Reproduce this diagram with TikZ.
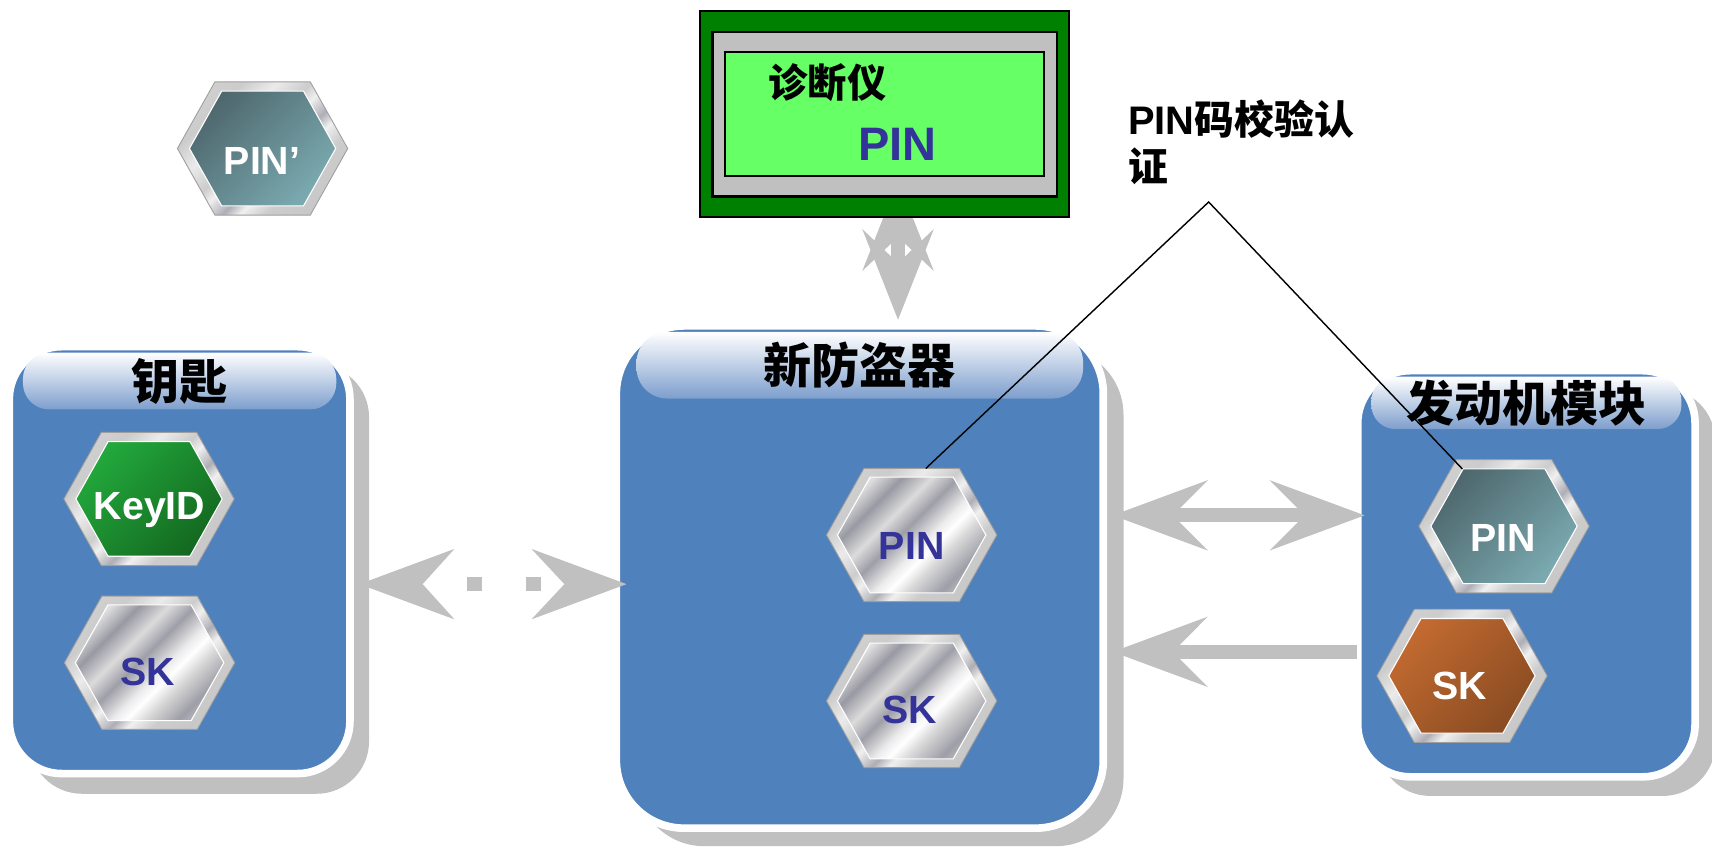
\documentclass[tikz,border=0pt]{standalone}
\usepackage{fontspec}
\setmainfont{Liberation Sans}
\newfontfamily\cjk{Noto Sans CJK SC}
\usetikzlibrary{arrows.meta}
\definecolor{box_blue}{RGB}{79, 129, 189}
\definecolor{head_blue}{RGB}{125, 158, 205}
\definecolor{fat_grey}{RGB}{192, 192, 192}
\definecolor{pin_navy}{RGB}{51, 51, 153}
\definecolor{lcd_green}{RGB}{102, 255, 102}
\definecolor{case_green}{RGB}{0, 128, 0}
\definecolor{teal_a}{RGB}{78, 104, 110}
\definecolor{teal_b}{RGB}{122, 170, 176}
\definecolor{green_a}{RGB}{34, 168, 60}
\definecolor{green_b}{RGB}{20, 105, 32}
\definecolor{brown_a}{RGB}{194, 106, 48}
\definecolor{brown_b}{RGB}{138, 76, 34}
\pgfdeclarehorizontalshading{silver_band}{100bp}{
  color(0bp)=(black!18); color(14bp)=(black!18); color(24bp)=(black!12);
  color(32bp)=(blue!10!black!40); color(40bp)=(black!14); color(47bp)=(blue!10!black!38);
  color(55bp)=(black!8); color(59bp)=(white); color(64bp)=(black!15);
  color(73bp)=(blue!10!black!38); color(84bp)=(black!14); color(100bp)=(black!14)}
\pgfdeclarehorizontalshading{silver_rim}{100bp}{
  color(0bp)=(black!14); color(30bp)=(black!20); color(38bp)=(black!8);
  color(46bp)=(black!20); color(50bp)=(black!6); color(56bp)=(blue!10!black!32);
  color(60bp)=(black!6); color(66bp)=(black!20); color(100bp)=(black!26)}
\makeatletter
\pgfdeclareshape{hexbox}{
  \inheritsavedanchors[from=rectangle]
  \inheritanchorborder[from=rectangle]
  \inheritanchor[from=rectangle]{center}
  \backgroundpath{
    \southwest \pgf@xa=\pgf@x \pgf@ya=\pgf@y
    \northeast \pgf@xb=\pgf@x \pgf@yb=\pgf@y
    \pgf@xc=\pgf@xb \advance\pgf@xc by-\pgf@xa \pgf@xc=0.22\pgf@xc
    \pgf@yc=\pgf@ya \advance\pgf@yc by\pgf@yb \pgf@yc=0.5\pgf@yc
    \pgfpathmoveto{\pgfqpoint{\pgf@xa}{\pgf@yc}}
    \pgfpathlineto{\pgfqpoint{\dimexpr\pgf@xa+\pgf@xc}{\pgf@yb}}
    \pgfpathlineto{\pgfqpoint{\dimexpr\pgf@xb-\pgf@xc}{\pgf@yb}}
    \pgfpathlineto{\pgfqpoint{\pgf@xb}{\pgf@yc}}
    \pgfpathlineto{\pgfqpoint{\dimexpr\pgf@xb-\pgf@xc}{\pgf@ya}}
    \pgfpathlineto{\pgfqpoint{\dimexpr\pgf@xa+\pgf@xc}{\pgf@ya}}
    \pgfpathclose
  }
}
\makeatother
\tikzstyle{shadown}=[rectangle,fill=fat_grey,inner sep=0pt]
\tikzstyle{bodyn}=[rectangle,fill=box_blue,draw=white,line width=7pt,inner sep=0pt]
\tikzstyle{headn}=[rectangle,top color=white,bottom color=head_blue,inner sep=0pt,
  font=\cjk\bfseries\fontsize{44}{44}\selectfont]
\tikzstyle{rimn}=[shape=hexbox,minimum width=156pt,minimum height=122pt,inner sep=0pt,outer sep=0pt,
  draw=black!38,line width=0.8pt,shading=silver_rim,shading angle=-45]
\tikzstyle{facen}=[shape=hexbox,minimum width=134pt,minimum height=105pt,inner sep=0pt,outer sep=0pt,
  draw=white,line width=1pt]
\tikzstyle{silvern}=[facen,minimum width=136pt,minimum height=106pt,shading=silver_band,shading angle=-45]
\tikzstyle{tealn}=[facen,left color=teal_a,right color=teal_b,shading angle=45]
\tikzstyle{greenn}=[facen,left color=green_a,right color=green_b,shading angle=45]
\tikzstyle{brownn}=[facen,left color=brown_a,right color=brown_b,shading angle=45]
\tikzstyle{whitet}=[text=white,font=\bfseries\fontsize{36}{36}\selectfont]
\tikzstyle{navyt}=[text=pin_navy,font=\bfseries\fontsize{36}{36}\selectfont]
\tikzstyle{fata}=[draw=fat_grey,line width=13pt]

\begin{document}
\begin{tikzpicture}[x=1pt,y=-1pt]
    \useasboundingbox (0,0) rectangle (1568,775);
    \node [style=shadown,rounded corners=48pt,minimum width=311pt,minimum height=393pt] (keyshadow) at (182.5,530.5) {};
    \node [style=shadown,rounded corners=62pt,minimum width=446pt,minimum height=457pt] (newshadow) at (806,546.5) {};
    \node [style=shadown,rounded corners=48pt,minimum width=309pt,minimum height=373pt] (engshadow) at (1416.5,542.5) {};
    \node [style=bodyn,rounded corners=48pt,minimum width=312pt,minimum height=391pt] (keybox) at (164.5,513) {};
    \node [style=bodyn,rounded corners=62pt,minimum width=446pt,minimum height=460pt] (newbox) at (787.5,528.5) {};
    \node [style=bodyn,rounded corners=48pt,minimum width=309pt,minimum height=372pt] (engbox) at (1398,525.5) {};
    \node [style=headn,rounded corners=24pt,minimum width=287pt,minimum height=52pt] (keyhead) at (164.5,349) {钥匙};
    \node [style=headn,rounded corners=28pt,minimum width=409pt,minimum height=61pt] (newhead) at (787.5,334.5) {新防盗器};
    \node [style=headn,rounded corners=22pt,minimum width=284pt,minimum height=48pt] (enghead) at (1398,369) {发动机模块};

    \coordinate (dl) at (329,535);
    \coordinate (dr) at (574,535);
    \coordinate (ul) at (1019,472);
    \coordinate (ur) at (1250,472);
    \coordinate (rl) at (1019,597);
    \coordinate (rr) at (1243,597);
    \coordinate (vt) at (822.5,165);
    \coordinate (vb) at (822.5,293);
    \draw [style=fata,dash pattern=on 14pt off 40pt,dash phase=8pt,{Stealth[length=86pt,width=63pt,inset=28pt]}-{Stealth[length=86pt,width=63pt,inset=29pt]}] (dl) to (dr);
    \draw [style=fata,{Stealth[length=86pt,width=63pt,inset=31pt]}-{Stealth[length=86pt,width=63pt,inset=31pt]}] (ul) to (ur);
    \draw [style=fata,{Stealth[length=86pt,width=63pt,inset=31pt]}-] (rl) to (rr);
    \draw [style=fata,{Stealth[length=82pt,width=64pt,inset=30pt]}-{Stealth[length=82pt,width=64pt,inset=30pt]}] (vt) to (vb);

    \node [rectangle,fill=case_green,draw=black,line width=2pt,minimum width=338pt,minimum height=189pt] (caseout) at (810,104.5) {};
    \node [rectangle,fill=fat_grey,draw=black,line width=2pt,minimum width=315.5pt,minimum height=150.5pt] (casemid) at (810.25,104.75) {};
    \node [rectangle,fill=lcd_green,draw=black,line width=2pt,minimum width=292.5pt,minimum height=113pt] (caselcd) at (810.25,104.5) {};
    \node [font=\cjk\bfseries\fontsize{36}{36}\selectfont] (diagt) at (758,76) {诊断仪};
    \node [text=pin_navy,font=\bfseries\fontsize{43}{43}\selectfont] (pint) at (822,132) {PIN};

    \node [style=rimn] (pinpr) at (240.5,136) {};
    \node [style=tealn] (pinprf) at (240.5,136) {};
    \node [style=whitet] (pinprt) at (240,147) {PIN’};
    \node [style=rimn] (keyid) at (136.5,457) {};
    \node [style=greenn] (keyidf) at (136.5,457) {};
    \node [style=whitet] (keyidt) at (137,467) {KeyID};
    \node [style=rimn] (skk) at (137,607) {};
    \node [style=silvern] (skkf) at (137,607) {};
    \node [style=navyt] (skkt) at (135,615) {SK};
    \node [style=rimn] (pinn) at (835,490) {};
    \node [style=silvern] (pinnf) at (835,490) {};
    \node [style=navyt] (pinnt) at (835,500) {PIN};
    \node [style=rimn] (skn) at (835,642) {};
    \node [style=silvern] (sknf) at (835,642) {};
    \node [style=navyt] (sknt) at (833,650) {SK};
    \node [style=rimn] (pine) at (1377.5,482) {};
    \node [style=tealn] (pinef) at (1377.5,482) {};
    \node [style=whitet] (pinet) at (1377,493) {PIN};
    \node [style=rimn] (ske) at (1339,619) {};
    \node [style=brownn] (skef) at (1339,619) {};
    \node [style=whitet] (sket) at (1337,628) {SK};

    \node [anchor=north west,align=left,inner sep=0pt,font=\cjk\bfseries\fontsize{36.5}{43}\selectfont] (checkt) at (1033,91) {{\rmfamily\bfseries PIN}码校验认\\证};
    \coordinate (apex) at (1107,185);
    \draw [line width=1.3pt] (pinn.78) to (apex) to (pinef.126);
\end{tikzpicture}
\end{document}
